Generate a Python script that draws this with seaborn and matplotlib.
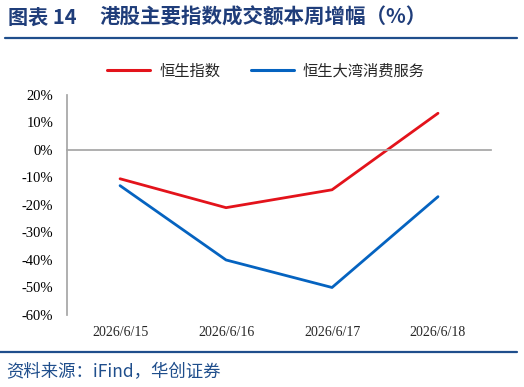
import matplotlib
matplotlib.use('Agg')
import matplotlib.pyplot as plt
import seaborn as sns
import pandas as pd
from matplotlib.lines import Line2D

# 数据
dates = ['2026/6/15', '2026/6/16', '2026/6/17', '2026/6/18']
hsi = [-10.5, -21.0, -14.5, 13.3]
hs_gba = [-13.0, -40.0, -50.0, -17.0]
series_names = ['恒生指数', '恒生大湾消费服务']
colors = ['#E3131B', '#0563C0']

df = pd.DataFrame({
    'date': dates * 2,
    'pos': list(range(len(dates))) * 2,
    'value': hsi + hs_gba,
    'series': [series_names[0]] * len(dates) + [series_names[1]] * len(dates),
})

sns.set_theme(style='white')
plt.rcParams['font.family'] = ['Noto Sans CJK SC', 'DejaVu Sans']
plt.rcParams['axes.unicode_minus'] = False

fig = plt.figure(figsize=(5.24, 3.87), dpi=100)
ax = fig.add_axes([0.128, 0.186, 0.809, 0.569])

sns.lineplot(data=df, x='pos', y='value', hue='series', palette=colors,
             linewidth=2.0, ax=ax, legend=False)

grey = '#A6A6A6'
ax.set_xlim(-0.5, len(dates) - 0.5)
ax.set_ylim(-60, 20)
ax.set_yticks(range(-60, 21, 10))
ax.set_yticklabels([f'{v}%' for v in range(-60, 21, 10)],
                   family='Liberation Serif', fontsize=10.5)
ax.set_xlabel('')
ax.set_ylabel('')

# x 轴在 0 处，刻度在分类边界
ax.spines['top'].set_visible(False)
ax.spines['right'].set_visible(False)
ax.spines['left'].set_color(grey)
ax.spines['bottom'].set_color(grey)
ax.spines['bottom'].set_position(('data', 0))
ax.set_xticks([i - 0.5 for i in range(len(dates) + 1)])
ax.set_xticklabels([])
ax.tick_params(axis='x', direction='in', length=4, color=grey, width=1)
ax.tick_params(axis='y', direction='in', length=5, color=grey, width=1,
               pad=10, labelcolor='black')

# 日期标签放在底部
sec = ax.secondary_xaxis('bottom')
sec.set_xticks(range(len(dates)))
sec.set_xticklabels(dates, family='Liberation Serif', fontsize=10)
sec.spines['bottom'].set_visible(False)
sec.tick_params(length=0, pad=8)

# 图例
handles = [Line2D([], [], color=c, linewidth=2.2) for c in colors]
fig.legend(handles, series_names, loc='center', bbox_to_anchor=(0.508, 0.817),
           ncol=2, frameon=False, fontsize=11, handlelength=2.8,
           columnspacing=2.0, handletextpad=0.6)

# 标题
navy = '#1F3D7A'
fig.text(0.015, 0.955, '图表 14', fontsize=14.5, fontweight='bold', color=navy,
         va='center', ha='left')
fig.text(0.19, 0.955, '港股主要指数成交额本周增幅（%）', fontsize=14.8,
         fontweight='bold', color=navy, va='center', ha='left')
fig.add_artist(Line2D([0.01, 0.987], [1 - 38 / 387] * 2, color='#1F4E8C',
                      linewidth=1.6, transform=fig.transFigure))
fig.add_artist(Line2D([0.0, 0.987], [1 - 352 / 387] * 2, color='#1F4E8C',
                      linewidth=1.6, transform=fig.transFigure))

# 资料来源
fig.text(0.012, 1 - 372 / 387, '资料来源：iFind，华创证券', fontsize=12.5,
         style='italic', color='#1F4E8C', va='center', ha='left')

fig.savefig('out.png', dpi=100)
